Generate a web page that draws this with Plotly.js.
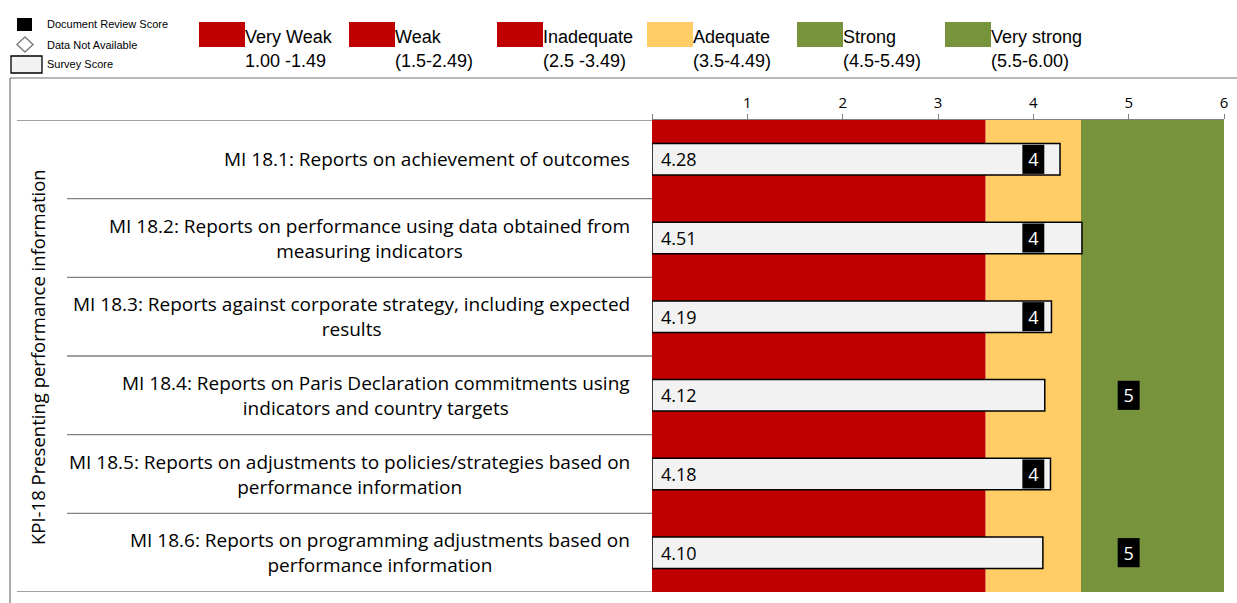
<!DOCTYPE html>
<html>
<head>
<meta charset="utf-8">
<script src="https://cdn.plot.ly/plotly-3.0.1.min.js"></script>
<style>html,body{margin:0;padding:0;background:#fff;}#chart{width:1237px;height:603px;}</style>
</head>
<body>
<div id="chart"></div>
<script>
// ---- Data ----
const categories = [
  "MI 18.1: Reports on achievement of outcomes",
  "MI 18.2: Reports on performance using data obtained from<br>measuring indicators",
  "MI 18.3: Reports against corporate strategy, including expected<br>results",
  "MI 18.4: Reports on Paris Declaration commitments using<br>indicators and country targets",
  "MI 18.5: Reports on adjustments to policies/strategies based on<br>performance information",
  "MI 18.6: Reports on programming adjustments based on<br>performance information"
];
const categoryIds = ["MI 18.1", "MI 18.2", "MI 18.3", "MI 18.4", "MI 18.5", "MI 18.6"];
const surveyScores = [4.28, 4.51, 4.19, 4.12, 4.18, 4.10];
const documentScores = [4, 4, 4, 5, 4, 5];
const axisTitle = "KPI-18 Presenting performance information";

const bandStarts = [0, 3.5, 4.5];
const bandEnds = [3.5, 4.5, 6];
const bandColors = ["#C00000", "#FFCC66", "#77933C"];

const ratingNames = ["Very Weak", "Weak", "Inadequate", "Adequate", "Strong", "Very strong"];
const ratingRanges = ["1.00 -1.49", "(1.5-2.49)", "(2.5 -3.49)", "(3.5-4.49)", "(4.5-5.49)", "(5.5-6.00)"];
const ratingColors = ["#C00000", "#C00000", "#C00000", "#FFCC66", "#77933C", "#77933C"];

const xTickVals = [0, 1, 2, 3, 4, 5, 6];
const xTickText = ["", "1", "2", "3", "4", "5", "6"];

// ---- Geometry helpers (pixel -> paper) ----
const W = 1237, H = 603;
const PL = 652, PR = 1224, PT = 120, PB = 592;
const px = x => (x - PL) / (PR - PL);
const py = y => (PB - y) / (PB - PT);

const FONT = "Open Sans";
const LEG_FONT = "Liberation Sans, Arial, sans-serif";

const boxHalf = 0.115;

const traces = [
  {
    type: "bar", orientation: "h",
    y: categoryIds, x: surveyScores,
    width: 0.4,
    marker: {color: "#F2F2F2", line: {color: "#000000", width: 1.5}},
    hoverinfo: "skip", showlegend: false
  },
  {
    type: "bar", orientation: "h",
    y: categoryIds, x: documentScores.map(() => 2 * boxHalf),
    base: documentScores.map(v => v - boxHalf),
    width: 0.37,
    marker: {color: "#000000", line: {width: 0}},
    text: documentScores.map(String),
    textposition: "inside", insidetextanchor: "middle",
    textangle: 0, constraintext: "none",
    textfont: {color: "#FFFFFF", size: 18, family: FONT},
    hoverinfo: "skip", showlegend: false
  }
];

const shapes = [];
const annotations = [];

// background bands
for (let i = 0; i < bandStarts.length; i++) {
  shapes.push({type: "rect", xref: "x", yref: "paper", x0: bandStarts[i], x1: bandEnds[i], y0: 0, y1: 1,
    fillcolor: bandColors[i], line: {width: 0}, layer: "below"});
}
// row separators
for (let i = 0; i <= categoryIds.length; i++) {
  const edge = (i === 0 || i === categoryIds.length);
  shapes.push({type: "line", xref: "paper", yref: "y",
    x0: px(edge ? 17 : 67), x1: 0, y0: i - 0.5, y1: i - 0.5,
    line: {color: "#808080", width: 1.3}});
}
// outer frame
shapes.push({type: "line", xref: "paper", yref: "paper", x0: px(10), x1: px(1237), y0: py(78), y1: py(78), line: {color: "#A0A0A0", width: 1.3}});
shapes.push({type: "line", xref: "paper", yref: "paper", x0: px(10), x1: px(10), y0: py(78), y1: py(603), line: {color: "#808080", width: 1.3}});

// category labels
categories.forEach((c, i) => {
  annotations.push({xref: "paper", yref: "y", x: px(632), y: categoryIds[i], xanchor: "right", yanchor: "middle",
    text: c, align: "center", showarrow: false, font: {family: FONT, size: 19, color: "#000"}});
});
// survey value labels
surveyScores.forEach((v, i) => {
  annotations.push({xref: "x", yref: "y", x: 0, y: categoryIds[i], xanchor: "left", yanchor: "middle", xshift: 7,
    text: v.toFixed(2), showarrow: false, font: {family: FONT, size: 18, color: "#000"}});
});
// y title
annotations.push({xref: "paper", yref: "paper", x: px(37), y: py(357), xanchor: "center", yanchor: "middle",
  text: axisTitle, textangle: -90, showarrow: false, font: {family: FONT, size: 18.5, color: "#000"}});

// rating legend
const legX = [199, 349, 497, 647, 797, 945];
ratingNames.forEach((n, i) => {
  shapes.push({type: "rect", xref: "paper", yref: "paper", x0: px(legX[i]), x1: px(legX[i] + 46), y0: py(22), y1: py(47),
    fillcolor: ratingColors[i], line: {width: 0}});
  annotations.push({xref: "paper", yref: "paper", x: px(legX[i] + 46), y: py(37), xanchor: "left", yanchor: "middle", xshift: -2,
    text: n, showarrow: false, font: {family: LEG_FONT, size: 18, color: "#000"}});
  annotations.push({xref: "paper", yref: "paper", x: px(legX[i] + 46), y: py(61), xanchor: "left", yanchor: "middle", xshift: -2,
    text: ratingRanges[i], showarrow: false, font: {family: LEG_FONT, size: 18, color: "#000"}});
});

// symbol legend
shapes.push({type: "rect", xref: "paper", yref: "paper", x0: px(17), x1: px(32), y0: py(18), y1: py(31), fillcolor: "#000", line: {width: 0}});
shapes.push({type: "path", xref: "paper", yref: "paper",
  path: `M ${px(25)} ${py(37)} L ${px(33)} ${py(44.5)} L ${px(25)} ${py(52)} L ${px(17)} ${py(44.5)} Z`,
  fillcolor: "#FFFFFF", line: {color: "#808080", width: 1.5}});
shapes.push({type: "rect", xref: "paper", yref: "paper", x0: px(11), x1: px(42), y0: py(56), y1: py(73), fillcolor: "#F2F2F2", line: {color: "#000", width: 1.3}});
const symTexts = ["Document Review Score", "Data Not Available", "Survey Score"];
const symY = [24, 45, 64];
symTexts.forEach((t, i) => {
  annotations.push({xref: "paper", yref: "paper", x: px(45), y: py(symY[i]), xanchor: "left", yanchor: "middle",
    text: t, showarrow: false, font: {family: LEG_FONT, size: 11, color: "#000"}});
});

const layout = {
  width: W, height: H,
  margin: {l: PL, r: W - PR, t: PT, b: H - PB, pad: 0},
  paper_bgcolor: "#FFFFFF", plot_bgcolor: "#FFFFFF",
  barmode: "overlay",
  showlegend: false,
  hovermode: false,
  xaxis: {
    range: [0, 6], side: "top", tickvals: xTickVals, ticktext: xTickText,
    ticks: "outside", ticklen: 5, tickcolor: "#808080", tickwidth: 1,
    showline: true, linecolor: "#808080", linewidth: 1,
    showgrid: false, zeroline: false, fixedrange: true,
    tickfont: {family: FONT, size: 15, color: "#000"}
  },
  yaxis: {
    type: "category", categoryorder: "array", categoryarray: categoryIds,
    range: [5.5, -0.5], showticklabels: false, showgrid: false, zeroline: false,
    showline: false, ticks: "", fixedrange: true
  },
  shapes: shapes,
  annotations: annotations
};

Plotly.newPlot("chart", traces, layout, {displayModeBar: false, staticPlot: true});
</script>
</body>
</html>
